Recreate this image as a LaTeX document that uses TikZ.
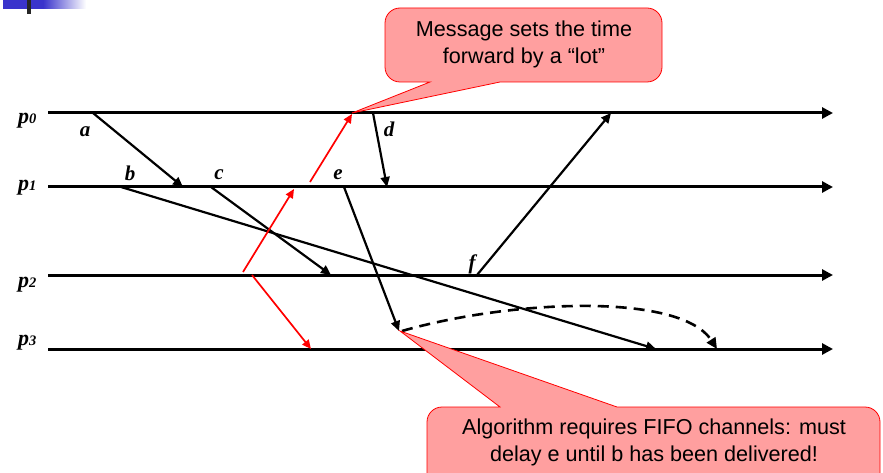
\documentclass[tikz,border=0pt]{standalone}
\usepackage{fontspec}
\setmainfont{Liberation Serif}
\newfontfamily\calloutfont{Liberation Sans}
\usetikzlibrary{arrows.meta}
\definecolor{calloutfill}{HTML}{FF9F9F}
\definecolor{barblue}{HTML}{3A34CC}
\newcommand\procidx[1]{{\fontsize{14.5}{14.5}\selectfont #1}}
\tikzset{
  timeline/.style={line width=3pt,-{Triangle[length=11pt,width=11pt]}},
  msg/.style={line width=2.2pt,-{Triangle[length=10pt,width=9pt]}},
  redmsg/.style={line width=1.7pt,red,-{Triangle[length=9pt,width=8pt]}},
  delay/.style={line width=2.6pt,dash pattern=on 11pt off 7pt,-{Triangle[length=11pt,width=10pt]}},
  proc/.style={font=\fontsize{22}{22}\selectfont\bfseries\itshape,anchor=base west,inner sep=0pt},
  evt/.style={font=\fontsize{21}{21}\selectfont\bfseries\itshape,inner sep=0pt},
  callout/.style={draw=red,line width=0.8pt,fill=calloutfill},
  callouttext/.style={font=\calloutfont\fontsize{21.6}{27}\selectfont,align=center,inner sep=0pt}
}
\begin{document}
\begin{tikzpicture}[x=1pt,y=-1pt]
\useasboundingbox (0,0) rectangle (883,473);
% corner ornament
\fill[barblue] (3,0) rectangle (43,9);
\shade[left color=barblue,right color=white] (43,0) rectangle (86,9);
\fill[black!85] (27,0) rectangle (31,14);

% process time lines
\coordinate (s0) at (48,113); \coordinate (t0) at (833,113);
\coordinate (s1) at (48,187); \coordinate (t1) at (833,187);
\coordinate (s2) at (48,275); \coordinate (t2) at (833,275);
\coordinate (s3) at (48,349); \coordinate (t3) at (833,349);
\foreach \i in {0,...,3} \draw[timeline] (s\i) -- (t\i);

\node[proc] (p0) at (18,124) {p\procidx{0}};
\node[proc] (p1) at (18,191) {p\procidx{1}};
\node[proc] (p2) at (18,287) {p\procidx{2}};
\node[proc] (p3) at (18,345) {p\procidx{3}};

% messages
\coordinate (aS) at (93,113);  \coordinate (aR) at (183,187);
\coordinate (bS) at (121,187); \coordinate (bR) at (656,349);
\coordinate (cS) at (211,187); \coordinate (cR) at (331,275);
\coordinate (dS) at (373,113); \coordinate (dR) at (387,187);
\coordinate (eS) at (344,187); \coordinate (eR) at (399,331);
\coordinate (fS) at (477,275); \coordinate (fR) at (611,113);
\draw[msg] (aS) -- (aR);
\draw[msg] (bS) -- (bR);
\draw[msg] (cS) -- (cR);
\draw[msg] (dS) -- (dR);
\draw[msg] (eS) -- (eR);
\draw[msg] (fS) -- (fR);

\node[evt] (la) at (85,132) {a};
\node[evt] (lb) at (130,173) {b};
\node[evt] (lc) at (219,175) {c};
\node[evt] (ld) at (389,129) {d};
\node[evt] (le) at (338,175) {e};
\node[evt] (lf) at (472,264) {f};

% red messages from p2
\coordinate (r1S) at (243,272); \coordinate (r1R) at (294,189);
\coordinate (r2S) at (310,182); \coordinate (r2R) at (352,114);
\coordinate (r3S) at (252,275); \coordinate (r3R) at (311,349);
\draw[redmsg] (r1S) -- (r1R);
\draw[redmsg] (r2S) -- (r2R);
\draw[redmsg] (r3S) -- (r3R);

% delayed delivery of e
\coordinate (dlS) at (402,331); \coordinate (dlR) at (717,349);
\draw[delay] (dlS) .. controls (510,300) and (680,292) .. (dlR);

% callouts
\draw[callout] (430,82) [rounded corners=15pt] -- (385,82) -- (385,8) -- (662,8) -- (662,82) [sharp corners] -- (500,82) -- (352,113) -- cycle;
\node[callouttext] (m1) at (524,44) {Message sets the time\\forward by a “lot”};

\draw[callout] (500,407) [rounded corners=15pt] -- (427,407) -- (427,490) -- (880,490) -- (880,407) [sharp corners] -- (617,407) -- (400,331) -- cycle;
\node[callouttext] (m2) at (654,442) {Algorithm requires FIFO channels: must\\delay e until b has been delivered!};
\end{tikzpicture}
\end{document}
